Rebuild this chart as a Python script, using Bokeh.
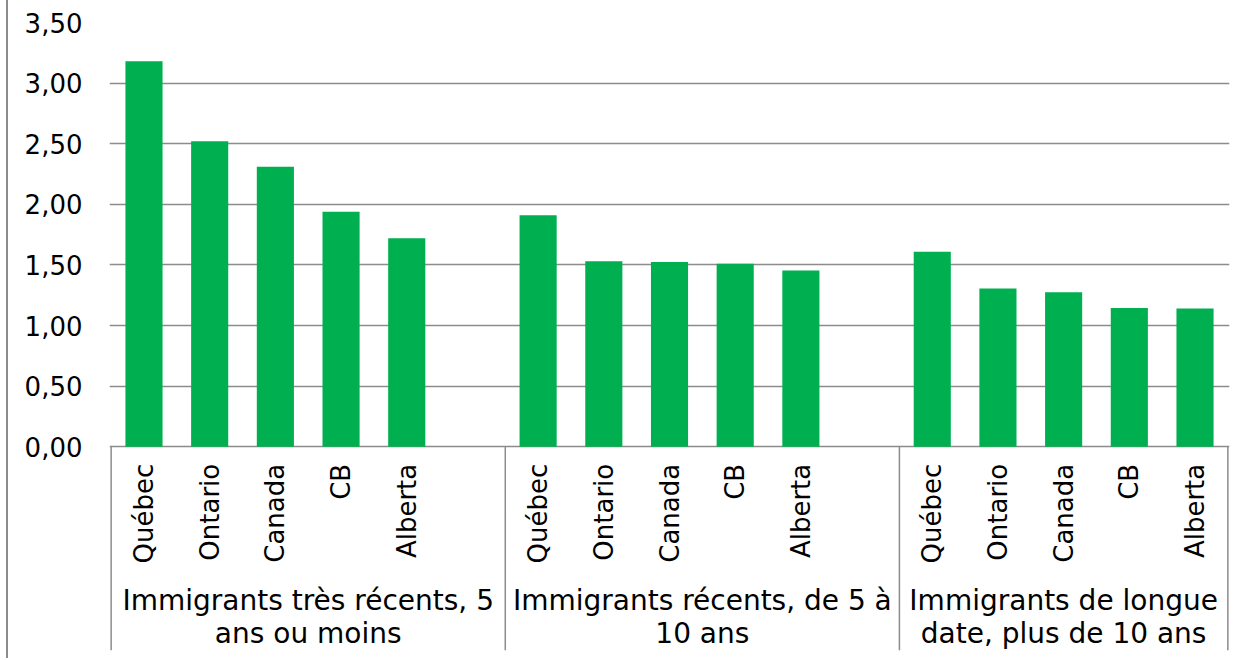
import numpy as np
from bokeh.plotting import figure
from bokeh.models import Range1d, FixedTicker, CustomJSTickFormatter
from bokeh.core.properties import value
from bokeh.embed import file_html
from bokeh.resources import INLINE

# ---- data ----
groups = [
    "Immigrants très récents, 5\nans ou moins",
    "Immigrants récents, de 5 à\n10 ans",
    "Immigrants de longue\ndate, plus de 10 ans",
]
provinces = ["Québec", "Ontario", "Canada", "CB", "Alberta"]
tres_recents = [3.18, 2.52, 2.31, 1.94, 1.72]
recents = [1.91, 1.53, 1.525, 1.51, 1.455]
longue_date = [1.61, 1.305, 1.275, 1.145, 1.14]
# category slots per group (the first two groups carry an empty category)
slots_per_group = [6, 6, 5]
y_ticks = [0.0, 0.5, 1.0, 1.5, 2.0, 2.5, 3.0, 3.5]

series = [tres_recents, recents, longue_date]
starts = np.concatenate([[0], np.cumsum(slots_per_group)[:-1]])
xs, tops, labels = [], [], []
for start, vals in zip(starts, series):
    for i, (prov, v) in enumerate(zip(provinces, vals)):
        xs.append(start + i + 0.5)
        tops.append(v)
        labels.append(prov)
total = int(sum(slots_per_group))

FONT = "DejaVu Sans"
FS = "26px"
GRID = "#8c8c8c"
Y0, Y1 = -1.68, 3.5

p = figure(
    width=1235, height=658,
    x_range=Range1d(-0.025, total + 0.025), y_range=Range1d(Y0, Y1),
    output_backend="svg", toolbar_location=None, x_axis_type=None,
    min_border_left=101, min_border_right=14, min_border_top=22, min_border_bottom=8,
)
p.outline_line_color = None
p.background_fill_color = "white"
p.border_fill_color = "white"

ax = p.yaxis[0]
ax.ticker = FixedTicker(ticks=y_ticks)
ax.formatter = CustomJSTickFormatter(code="return tick.toFixed(2).replace('.', ',');")
ax.axis_line_color = None
ax.major_tick_line_color = None
ax.minor_tick_line_color = None
ax.major_tick_out = 0
ax.major_tick_in = 0
ax.major_label_standoff = 27
ax.major_label_text_font = FONT
ax.major_label_text_font_size = FS
ax.major_label_text_color = "#000000"

p.ygrid.grid_line_color = GRID
p.ygrid.grid_line_width = 1.5

p.vbar(x=xs, top=tops, bottom=0, width=0.565, fill_color="#00B050", line_color=None)

bounds = np.concatenate([[0], np.cumsum(slots_per_group)]).astype(float)
p.segment(x0=bounds, y0=0, x1=bounds, y1=Y0, line_color=GRID, line_width=1.5)

p.text(x=xs, y=-0.14, text=labels, angle=np.pi / 2,
       text_align="right", text_baseline="middle",
       text_font=value(FONT), text_font_size=FS, text_color="#000000")

centers = starts + np.array(slots_per_group) / 2.0
p.text(x=centers, y=-1.405, text=groups,
       text_align="center", text_baseline="middle", text_line_height=1.02,
       text_font=value(FONT), text_font_size="28px", text_color="#000000")

p.styles = {"border-left": "2px solid #8c8c8c", "margin-left": "6px"}

open("out.html", "w").write(file_html(p, INLINE))
